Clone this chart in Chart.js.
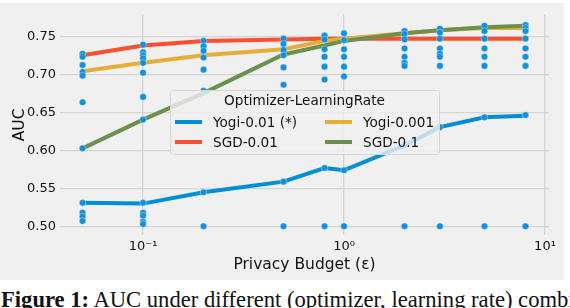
<!DOCTYPE html>
<html lang="en">
<head>
<meta charset="UTF-8">
<title>AUC vs privacy budget</title>
<script src="https://cdn.jsdelivr.net/npm/chart.js@4.4.0/dist/chart.umd.min.js"></script>
<style>
    body { margin: 0; background: #fff; width: 570px; height: 308px; overflow: hidden; position: relative; }
    #fig { position: absolute; left: 0; top: 3px; width: 564px; height: 277px; background: #f0f0f0; }
    #cap { position: absolute; left: 1px; top: 288px; font-family: "Liberation Serif", serif; font-size: 22.6px; line-height: 23px; white-space: nowrap; color: #111; }
</style>
</head>
<body>
<div id="fig"><canvas id="wykres" width="564" height="277"></canvas></div>
<div id="cap"><b>Figure 1:</b> AUC under different (optimizer, learning rate) combinations</div>
<script>
// privacy budgets (x) and mean AUC per optimizer-learning rate
const budgets = [0.05, 0.1, 0.2, 0.5, 0.8, 1, 2, 3, 5, 8];
const yogi001 = [0.531, 0.530, 0.545, 0.559, 0.577, 0.574, 0.607, 0.631, 0.644, 0.646];
const sgd001 = [0.726, 0.739, 0.745, 0.747, 0.748, 0.748, 0.748, 0.748, 0.748, 0.748];
const yogi0001 = [0.705, 0.716, 0.726, 0.734, 0.745, 0.748, 0.755, 0.759, 0.762, 0.762];
const sgd01 = [0.603, 0.641, 0.676, 0.727, 0.739, 0.745, 0.755, 0.759, 0.763, 0.765];
// single runs, one list per budget
const runs = [
    [0.728, 0.724, 0.713, 0.704, 0.699, 0.664, 0.603, 0.531, 0.518, 0.513, 0.507],
    [0.740, 0.730, 0.726, 0.722, 0.716, 0.703, 0.671, 0.641, 0.531, 0.518, 0.514, 0.506, 0.503],
    [0.745, 0.738, 0.732, 0.723, 0.707, 0.679, 0.545, 0.500],
    [0.748, 0.741, 0.733, 0.726, 0.710, 0.687, 0.559, 0.500],
    [0.752, 0.747, 0.734, 0.724, 0.711, 0.694, 0.577, 0.500],
    [0.755, 0.746, 0.734, 0.724, 0.711, 0.698, 0.574, 0.500],
    [0.758, 0.754, 0.747, 0.735, 0.724, 0.716, 0.712, 0.607, 0.500],
    [0.761, 0.756, 0.748, 0.735, 0.728, 0.724, 0.712, 0.631, 0.500],
    [0.765, 0.758, 0.748, 0.735, 0.724, 0.712, 0.644, 0.500],
    [0.766, 0.762, 0.758, 0.748, 0.735, 0.724, 0.712, 0.647, 0.500]
];
const yTicks = [0.50, 0.55, 0.60, 0.65, 0.70, 0.75];
const xTicks = [0.1, 1, 10];
const xTickLabels = ["10\u207B\u00B9", "10\u2070", "10\u00B9"];

const FONT = "'DejaVu Sans', sans-serif";

function serie(values) {
    return values.map((v, i) => ({ x: budgets[i], y: v }));
}
let points = [];
for (let i = 0; i < budgets.length; i++)
    for (let j = 0; j < runs[i].length; j++)
        points.push({ x: budgets[i], y: runs[i][j] });

const lineDs = (label, values, color, order) => ({
    type: "line", label: label, data: serie(values), borderColor: color, backgroundColor: color,
    borderWidth: 4, pointRadius: 0, fill: false, tension: 0, order: order
});

const dane = {
    datasets: [
        { type: "scatter", label: "runs", data: points, backgroundColor: "#1590d6",
          borderColor: "rgba(255,255,255,0.35)", borderWidth: 1, pointRadius: 3.3, order: 0 },
        lineDs("Yogi-0.01 (*)", yogi001, "#008fd5", 4),
        lineDs("SGD-0.01", sgd001, "#fc4f30", 3),
        lineDs("Yogi-0.001", yogi0001, "#e5ae38", 2),
        lineDs("SGD-0.1", sgd01, "#6d904f", 1)
    ]
};

// legend drawn inside the plot, two columns with a title
const legendBox = {
    id: "legendBox",
    afterDatasetsDraw(chart) {
        const c = chart.ctx;
        const x0 = 170, y0 = 87, w = 269, h = 64;
        c.save();
        c.fillStyle = "rgba(240,240,240,0.8)";
        c.strokeStyle = "#d6d6d6";
        c.lineWidth = 1;
        c.beginPath();
        c.roundRect(x0 + 0.5, y0 + 0.5, w, h, 3);
        c.fill();
        c.stroke();
        c.fillStyle = "#111";
        c.font = "13.6px " + FONT;
        c.textBaseline = "middle";
        c.textAlign = "center";
        c.fillText("Optimizer-LearningRate", x0 + w / 2, y0 + 11);
        c.textAlign = "left";
        const items = [[1, 0, 0], [3, 1, 0], [2, 0, 1], [4, 1, 1]];
        items.forEach(([di, col, row]) => {
            const ds = chart.data.datasets[di];
            const lx = x0 + 5 + col * 150, ly = y0 + 32 + row * 20;
            c.strokeStyle = ds.borderColor;
            c.lineWidth = 4;
            c.beginPath();
            c.moveTo(lx, ly);
            c.lineTo(lx + 27, ly);
            c.stroke();
            c.fillStyle = "#111";
            c.fillText(ds.label, lx + 38, ly + 1);
        });
        c.restore();
    }
};

const ctx = document.getElementById("wykres").getContext("2d");
const wykres = new Chart(ctx, {
    data: dane,
    plugins: [legendBox],
    options: {
        responsive: false,
        animation: false,
        layout: { padding: { top: 5, right: 15, left: 0, bottom: 0 } },
        plugins: { legend: { display: false }, tooltip: { enabled: false } },
        scales: {
            x: {
                type: "logarithmic", min: 0.0386, max: 10.47,
                afterBuildTicks: (s) => { s.ticks = xTicks.map(v => ({ value: v })); },
                afterFit: (s) => { s.height = 45; },
                border: { display: false },
                grid: { color: "#d4d4d4", lineWidth: 1.3, drawTicks: false },
                ticks: {
                    padding: 4, color: "#111", font: { family: FONT, size: 13 },
                    maxRotation: 0, autoSkip: false,
                    callback: (v) => { const k = xTicks.indexOf(v); return k >= 0 ? xTickLabels[k] : ""; }
                },
                title: { display: true, text: "Privacy Budget (\u03B5)", color: "#111",
                         font: { family: FONT, size: 15.5 }, padding: { top: 0, bottom: 6 } }
            },
            y: {
                min: 0.4885, max: 0.7795,
                afterBuildTicks: (s) => { s.ticks = yTicks.map(v => ({ value: v })); },
                afterFit: (s) => { s.width = 60; },
                border: { display: false },
                grid: { color: "#d4d4d4", lineWidth: 1.3, drawTicks: false },
                ticks: { padding: 4, color: "#111", font: { family: FONT, size: 13 },
                         callback: (v) => v.toFixed(2) },
                title: { display: true, text: "AUC", color: "#111",
                         font: { family: FONT, size: 15.5 }, padding: { top: 11, bottom: 0 } }
            }
        }
    }
});
</script>
</body>
</html>
